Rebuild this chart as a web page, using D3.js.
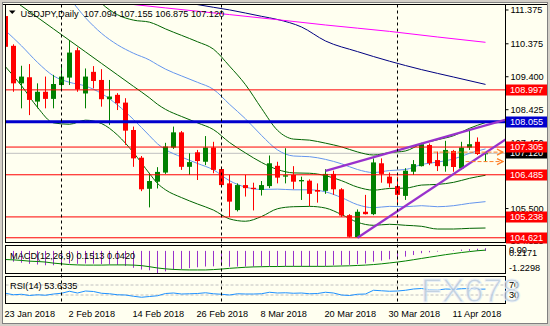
<!DOCTYPE html>
<html><head><meta charset="utf-8">
<script src="https://cdn.jsdelivr.net/npm/d3@7"></script>
<style>
body{margin:0;background:#d4d0c8}
svg{display:block}
text{font-family:"Liberation Sans",Arial,sans-serif;font-size:9.2px}
</style>
</head><body>
<svg id="chart" width="550" height="326"></svg>
<script>
// USDJPY daily bars, 23 Jan 2018 .. 17 Apr 2018
const openP  = [111.18,110.30,109.19,109.37,108.65,108.94,108.73,109.14,109.36,110.17,108.89,109.53,109.29,108.72,108.85,108.62,107.81,106.99,106.07,106.28,
                106.55,107.29,107.74,106.72,107.15,106.87,107.29,106.655,106.23,105.44,106.18,106.10,106.035,106.15,106.75,106.43,106.48,106.29,106.31,106.035,
                106.01,106.51,106.055,105.29,104.635,105.39,105.32,106.825,106.43,106.15,105.86,106.575,106.74,107.365,106.92,106.74,107.19,106.67,107.29,107.46,107.094];
const highP  = [111.25,110.345,109.71,109.76,109.19,109.39,109.44,109.76,110.47,110.25,109.63,109.70,109.61,109.29,108.90,108.75,107.91,107.04,106.54,106.71,
                107.43,107.91,107.78,107.12,107.22,107.63,107.46,106.72,106.48,106.23,106.48,106.25,106.30,107.055,106.87,107.27,106.74,106.43,106.35,106.23,
                106.65,106.605,106.09,105.32,105.46,105.89,106.97,106.97,106.55,106.43,106.68,106.92,107.43,107.41,107.17,107.49,107.22,107.46,107.81,107.59,107.155];
const lowP   = [110.22,108.94,108.45,108.25,108.45,108.45,108.45,108.99,109.14,108.94,108.45,109.04,108.50,107.96,108.40,107.37,106.72,106.00,105.52,106.08,
                106.51,107.25,106.63,106.48,106.33,106.77,106.53,106.15,105.24,105.40,105.84,105.43,105.87,106.09,106.23,106.23,106.055,105.74,105.56,105.66,
                105.92,105.89,105.24,104.63,104.621,105.31,105.29,106.25,106.11,105.59,105.74,106.48,106.73,106.77,106.595,106.575,106.575,106.63,107.22,107.07,106.875];
const closeP = [110.27,109.19,109.39,108.70,108.94,108.73,109.17,109.39,110.10,109.01,109.39,109.26,108.72,108.80,108.60,107.79,106.97,106.055,106.30,106.57,
                107.32,107.74,106.72,106.86,106.89,107.29,106.63,106.18,105.69,106.18,106.09,106.06,106.18,106.825,106.40,106.47,106.28,106.33,105.92,105.985,
                106.51,106.055,105.28,104.65,105.39,105.32,106.85,106.51,106.23,105.89,106.605,106.80,107.39,106.825,106.74,107.22,106.715,107.29,107.39,107.10,107.120];

// Bollinger(20): middle line and standard deviation, sampled at bar indexes
const bandIdx = [0,2,4,6,8,10,12,14,16,18,19,20,22,24,26,28,30,32,34,36,38,40,42,44,46,48,50,52,54,56,58,60];
const bandMid = [111.82,111.48,111.14,110.80,110.46,110.12,109.78,109.44,109.10,108.76,108.57,108.42,108.21,108.02,107.82,107.44,107.13,106.85,106.64,106.54,
                 106.53,106.46,106.31,106.12,106.03,106.08,106.09,106.18,106.20,106.26,106.38,106.47];
const bandSd  = [1.07,1.18,1.33,1.39,1.24,1.01,0.89,0.89,0.98,1.12,1.17,1.19,1.20,1.20,1.19,1.13,1.01,0.80,0.58,0.50,
                 0.49,0.48,0.50,0.52,0.52,0.53,0.55,0.61,0.66,0.69,0.74,0.78];

// Long moving averages
const ma200Idx = [0,10,16,20,28,34,40,48,54,60];
const ma200    = [112.015,111.673,111.522,111.422,111.224,111.073,110.916,110.727,110.561,110.404];
const ma100Idx = [18,22,24,28,32,34,37,40,44,48,52,56,60];
const ma100    = [111.70,111.62,111.52,111.363,111.173,111.079,110.857,110.443,110.129,109.845,109.596,109.377,109.158];

// Horizontal levels
const redLevels  = [108.997,107.305,106.485,105.238,104.621];
const blueLevel  = 108.055;
const bidLevel   = 107.120;
const priceTicks = [111.375,110.375,109.400,108.425,107.450,106.475,105.500,104.525];

// Wedge trendlines: [bar index, price]
const upperTrend = [[40,106.60],[62.56,108.12]];
const lowerTrend = [[44,104.621],[62.56,107.54]];

// MACD(12,26,9): main histogram and signal line
const macdMain = [-0.50,-0.60,-0.66,-0.72,-0.76,-0.80,-0.80,-0.78,-0.70,-0.72,-0.70,-0.71,-0.74,-0.75,-0.78,-0.84,-0.94,-1.04,-1.08,-1.2298,
                  -1.14,-1.06,-1.02,-0.96,-0.91,-0.87,-0.86,-0.85,-0.88,-0.87,-0.87,-0.87,-0.86,-0.84,-0.85,-0.85,-0.86,-0.86,-0.88,-0.86,
                  -0.84,-0.80,-0.80,-0.78,-0.74,-0.70,-0.60,-0.54,-0.47,-0.41,-0.32,-0.23,-0.13,-0.08,-0.04,0.01,0.03,0.07,0.10,0.12,0.1513];
const macdSignal = [-0.48,-0.50,-0.53,-0.57,-0.59,-0.62,-0.68,-0.72,-0.76,-0.78,-0.79,-0.79,-0.79,-0.78,-0.78,-0.78,-0.79,-0.82,-0.88,-0.95,
                    -1.00,-1.03,-1.05,-1.06,-1.06,-1.06,-1.04,-1.01,-0.97,-0.94,-0.91,-0.89,-0.88,-0.87,-0.87,-0.86,-0.86,-0.86,-0.86,-0.86,
                    -0.86,-0.85,-0.84,-0.83,-0.81,-0.79,-0.76,-0.72,-0.67,-0.62,-0.56,-0.49,-0.42,-0.35,-0.28,-0.21,-0.15,-0.09,-0.04,0.01,0.042];
const macdRange = [-1.2298,0.2171];

// RSI(14)
const rsi = [37,31,33,28,31,29,34,37,45,38,46,44,37,35,31,30,25,21,24,27,
             36,38,34,35,36,39,35,33,30,35,34,34,35,41,38,39,37,38,35,36,
             41,38,30,28,33,34,49,47,45,46,49,54,56,51,50,54,53,55,56,53,53.6335];
const rsiLevels = [70,30];

// Axis labels
const dateLabels = [[0,"23 Jan 2018"],[8,"2 Feb 2018"],[16,"14 Feb 2018"],[24,"26 Feb 2018"],[32,"8 Mar 2018"],[40,"20 Mar 2018"],[48,"30 Mar 2018"],[56,"11 Apr 2018"]];
const monthStarts = [7,27,49];

// ---------------- drawing ----------------
const svg = d3.select("#chart");
const L = 5.5, R = 505.5;
const main = {top:4.5, bot:242.5}, macdP = {top:245.5, bot:273.5}, rsiP = {top:276.5, bot:303.5};
const cream = "#fffff0";
const fmt3 = v => d3.format(".3f")(v).replace("\u2212","-");
const fmt4 = v => d3.format(".4f")(v).replace("\u2212","-");

const x = d3.scaleLinear().domain([0,60]).range([5.5,485.5]);
const y = d3.scaleLinear().domain([104.5,111.5]).range([241.86,5.26]);
const yM = d3.scaleLinear().domain(macdRange).range([273,247]);
const yR = d3.scaleLinear().domain([0,100]).range([302.5,277.5]);

// window frame
svg.append("rect").attr("x",2.5).attr("y",2.5).attr("width",545).attr("height",321)
  .attr("fill",cream).attr("stroke","#808080");
svg.append("line").attr("x1",3).attr("x2",547).attr("y1",4.5).attr("y2",4.5).attr("stroke","#000");

const defs = svg.append("defs");
defs.append("clipPath").attr("id","clipMain").append("rect")
  .attr("x",L).attr("y",main.top).attr("width",R-L).attr("height",main.bot-main.top);
defs.append("clipPath").attr("id","clipMacd").append("rect")
  .attr("x",L).attr("y",macdP.top).attr("width",R-L).attr("height",macdP.bot-macdP.top);
defs.append("clipPath").attr("id","clipRsi").append("rect")
  .attr("x",L).attr("y",rsiP.top).attr("width",R-L).attr("height",rsiP.bot-rsiP.top);
defs.append("marker").attr("id","arrowO").attr("viewBox","0 0 8 8").attr("refX",7).attr("refY",4)
  .attr("markerWidth",8).attr("markerHeight",8).attr("markerUnits","userSpaceOnUse").attr("orient","auto")
  .append("path").attr("d","M1,1 L7,4 L1,7").attr("fill","none").attr("stroke","#ff7f27").attr("stroke-width",1.3);

// ---- main panel ----
const gMain = svg.append("g").attr("clip-path","url(#clipMain)");

// bid line (behind bars)
gMain.append("line").attr("x1",L).attr("x2",R).attr("y1",y(bidLevel)).attr("y2",y(bidLevel))
  .attr("stroke","#c0c0c0");

// Bollinger bands
const bandLine = (mult) => d3.line().curve(d3.curveMonotoneX)
  .x((d,i)=>x(bandIdx[i])).y((d,i)=>y(bandMid[i] + mult*bandSd[i]));
[[2,"#006400"],[1,"#6495ed"],[0,"#006400"],[-1,"#6495ed"],[-2,"#006400"]].forEach(([m,c])=>{
  gMain.append("path").attr("d",bandLine(m)(bandMid)).attr("fill","none").attr("stroke",c).attr("stroke-width",1);
});

// long moving averages
const maLine = (idx) => d3.line().curve(d3.curveMonotoneX).x((d,i)=>x(idx[i])).y(d=>y(d));
gMain.append("path").attr("d",maLine(ma100Idx)(ma100)).attr("fill","none").attr("stroke","#000080");
gMain.append("path").attr("d",maLine(ma200Idx)(ma200)).attr("fill","none").attr("stroke","#ff00ff");

// candles
const bars = d3.range(openP.length);
const gC = gMain.append("g");
gC.selectAll("line.wick").data(bars).join("line")
  .attr("x1",i=>x(i)).attr("x2",i=>x(i))
  .attr("y1",i=>y(highP[i])).attr("y2",i=>y(lowP[i]))
  .attr("stroke",i=>closeP[i]>=openP[i]?"#008000":"#ff0000");
gC.selectAll("rect.body").data(bars).join("rect")
  .attr("x",i=>x(i)-2.5).attr("width",5)
  .attr("y",i=>y(Math.max(openP[i],closeP[i])))
  .attr("height",i=>Math.max(1,y(Math.min(openP[i],closeP[i]))-y(Math.max(openP[i],closeP[i]))))
  .attr("fill",i=>closeP[i]>=openP[i]?"#008000":"#ff0000");

// horizontal levels
gMain.selectAll("line.red").data(redLevels).join("line")
  .attr("x1",L).attr("x2",R).attr("y1",d=>y(d)).attr("y2",d=>y(d)).attr("stroke","#ff0000");
gMain.append("line").attr("x1",L).attr("x2",R).attr("y1",y(blueLevel)).attr("y2",y(blueLevel))
  .attr("stroke","#0000cd").attr("stroke-width",3);

// wedge trendlines
[upperTrend,lowerTrend].forEach(t=>{
  gMain.append("line").attr("x1",x(t[0][0])).attr("y1",y(t[0][1])).attr("x2",x(t[1][0])).attr("y2",y(t[1][1]))
    .attr("stroke","#9932cc").attr("stroke-width",2.2);
});

// high / low projection of the last bar
const last = openP.length-1;
[[highP[last],53.5],[lowP[last],57.5]].forEach(([p,k])=>{
  gMain.append("line").attr("x1",x(k)).attr("x2",503).attr("y1",y(p)).attr("y2",y(p))
    .attr("stroke","#ff7f27").attr("stroke-dasharray","4,2").attr("marker-end","url(#arrowO)");
});

// ---- MACD panel ----
const gM = svg.append("g").attr("clip-path","url(#clipMacd)");
gM.selectAll("line").data(bars).join("line")
  .attr("x1",i=>x(i)).attr("x2",i=>x(i)).attr("y1",yM(0)).attr("y2",i=>yM(macdMain[i]))
  .attr("stroke","#9932cc");
gM.append("path").attr("d",d3.line().x((d,i)=>x(i)).y(d=>yM(d))(macdSignal))
  .attr("fill","none").attr("stroke","#008000");

// ---- RSI panel ----
const gR = svg.append("g").attr("clip-path","url(#clipRsi)");
gR.selectAll("line").data(rsiLevels).join("line")
  .attr("x1",L).attr("x2",R).attr("y1",d=>yR(d)).attr("y2",d=>yR(d))
  .attr("stroke","#c0c0c0").attr("stroke-dasharray","3,2");
gR.append("path").attr("d",d3.line().x((d,i)=>x(i)).y(d=>yR(d))(rsi))
  .attr("fill","none").attr("stroke","#1e90ff");

// month separators through all panels
svg.selectAll("line.sep").data(monthStarts).join("line")
  .attr("x1",d=>x(d)).attr("x2",d=>x(d)).attr("y1",main.top).attr("y2",rsiP.bot)
  .attr("stroke","#000").attr("stroke-dasharray","3,3");

// panel frames
[main,macdP,rsiP].forEach(p=>{
  svg.append("rect").attr("x",L).attr("y",p.top).attr("width",R-L).attr("height",p.bot-p.top)
    .attr("fill","none").attr("stroke","#000");
});

// ---- right price axis ----
const axisR = d3.axisRight(y).tickValues(priceTicks).tickFormat(fmt3).tickSize(3).tickPadding(2);
const gAx = svg.append("g").attr("transform",`translate(${R},0)`).call(axisR);
gAx.select(".domain").remove();
gAx.selectAll("text").style("font-family",'"Liberation Sans",Arial,sans-serif').style("font-size","9.2px").attr("fill","#000");
gAx.selectAll("line").attr("stroke","#000");

const tagLevels = [[bidLevel,"#000000"],[blueLevel,"#0000cd"]].concat(redLevels.map(v=>[v,"#ff0000"]));
tagLevels.forEach(([v,c])=>{
  const g = svg.append("g");
  g.append("rect").attr("x",506).attr("y",Math.round(y(v))-5.5).attr("width",41).attr("height",11).attr("fill",c);
  g.append("text").attr("x",510).attr("y",Math.round(y(v))+3.3).attr("fill","#fff").text(fmt3(v));
});

// MACD / RSI scale labels
svg.append("text").attr("x",509).attr("y",yM(0)+2).text("0.00");
svg.append("text").attr("x",509).attr("y",yM(macdRange[1])+9).text(fmt4(macdRange[1]));
svg.append("text").attr("x",509).attr("y",yM(macdRange[0])-2.5).text(fmt4(macdRange[0]));
rsiLevels.forEach(v=>svg.append("text").attr("x",509).attr("y",yR(v)+3.3).text(v));

// ---- date axis ----
svg.selectAll("text.date").data(dateLabels).join("text")
  .attr("x",d=>x(d[0])-1).attr("y",316.5).text(d=>d[1]);

// ---- titles ----
svg.append("path").attr("d","M9,10.5 L15.5,10.5 L12.25,14 Z").attr("fill","#000");
svg.append("text").attr("x",20.5).attr("y",16.5)
  .text(`USDJPY,Daily  ${[openP[last],highP[last],lowP[last],closeP[last]].map(fmt3).join(" ")}`)
  .style("white-space","pre");
svg.append("text").attr("x",10).attr("y",259)
  .text(`MACD(12,26,9) ${fmt4(macdMain[last])} ${fmt4(macdSignal[last])}`);
svg.append("text").attr("x",10).attr("y",288.5).text(`RSI(14) ${fmt4(rsi[last])}`);

// watermark
svg.append("text").attr("x",421).attr("y",302).text("FX678")
  .style("font-size","34px").style("font-family",'"Liberation Sans",Arial,sans-serif')
  .attr("fill","#b4c6dc").attr("fill-opacity",0.8).attr("stroke","#eef3f8").attr("stroke-width",0.8);
</script>
</body></html>
